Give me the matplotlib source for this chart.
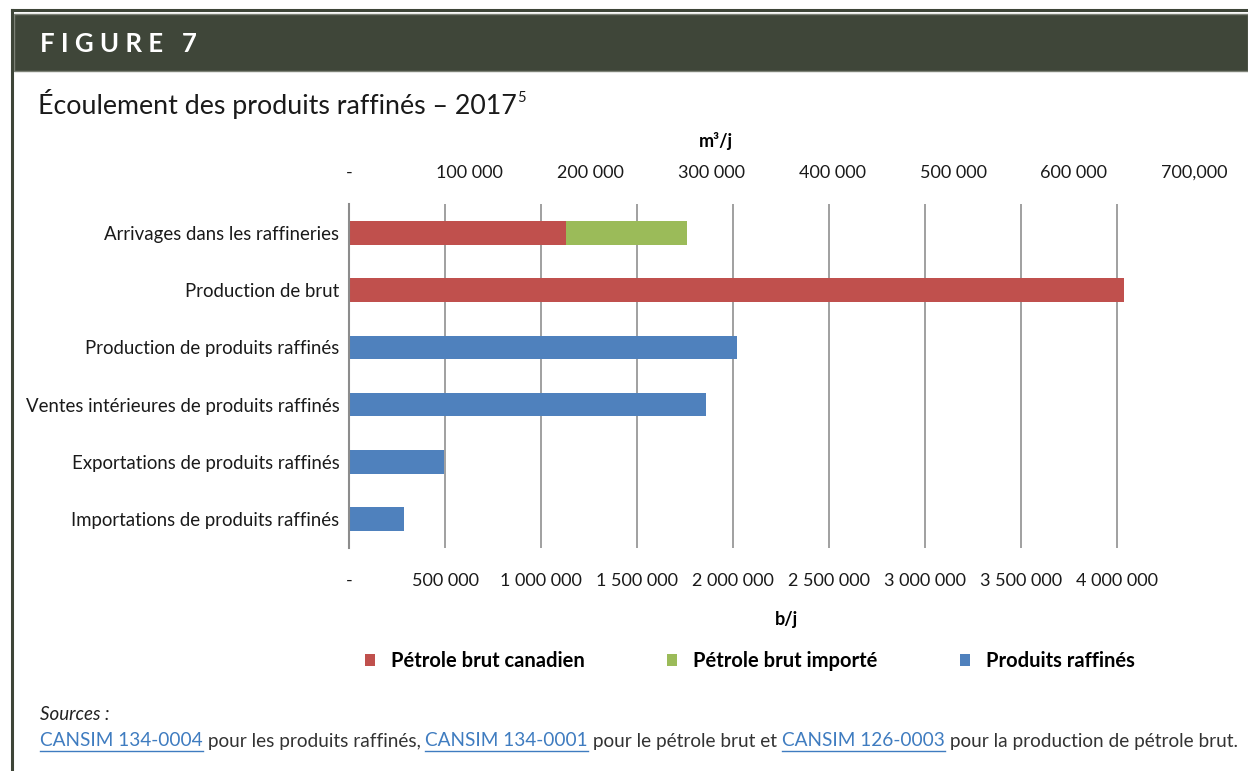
import matplotlib
matplotlib.use("Agg")
import matplotlib.pyplot as plt
from matplotlib.lines import Line2D
from matplotlib.patches import Rectangle

plt.rcParams['font.family'] = ['Lato', 'DejaVu Sans']

# données (b/j)
categories = ["Arrivages dans les raffineries", "Production de brut",
              "Production de produits raffinés",
              "Ventes intérieures de produits raffinés",
              "Exportations de produits raffinés",
              "Importations de produits raffinés"]
brut_canadien = [1131000, 4033000, 0, 0, 0, 0]
brut_importe = [630000, 0, 0, 0, 0, 0]
produits_raffines = [0, 0, 2022000, 1860000, 497000, 287000]
series_labels = ["Pétrole brut canadien", "Pétrole brut importé", "Produits raffinés"]

b_ticks = [0, 500000, 1000000, 1500000, 2000000, 2500000, 3000000, 3500000, 4000000]
b_labels = ["-", "500 000", "1 000 000", "1 500 000", "2 000 000", "2 500 000",
            "3 000 000", "3 500 000", "4 000 000"]
m3_ticks = [0, 100000, 200000, 300000, 400000, 500000, 600000, 700000]
m3_labels = ["-", "100 000", "200 000", "300 000", "400 000", "500 000", "600 000", "700,000"]
B_PAR_M3 = 6.2898

RED = "#C0504D"
GREEN = "#9BBB59"
BLUE = "#4F81BD"
W, H = 1248, 771

fig = plt.figure(figsize=(W / 100, H / 100), dpi=100)

# cadre et bandeau
fig.add_artist(Line2D([12 / W, 12 / W], [0, 1 - 10 / H], color="#3E4538", lw=2.2))
fig.add_artist(Line2D([12 / W, 1], [1 - 10 / H, 1 - 10 / H], color="#3E4538", lw=2.2))
fig.add_artist(Rectangle((14 / W, 1 - 71 / H), 1 - 14 / W, 57 / H, facecolor="#3F4639",
                         edgecolor="#7D8277", lw=1.0, transform=fig.transFigure))
fig.text(40 / W, 1 - 44 / H, "F I G U R E   7", color="white", fontsize=18.5,
         fontweight="bold", va="center", ha="left")

t = fig.text(38 / W, 1 - 104 / H, "Écoulement des produits raffinés – 2017", fontsize=19.3,
             va="center", ha="left", color="#1a1a1a")
fig.canvas.draw()
r = fig.canvas.get_renderer()
bb = t.get_window_extent(r)
fig.text(bb.x1 / W, 1 - 98 / H, "5", fontsize=10.5, va="center", ha="left", color="#1a1a1a")

# axes
left, right = 349 / W, 1194.6 / W
top, bottom = 1 - 204.4 / H, 1 - 547.6 / H
ax = fig.add_axes([left, bottom, right - left, top - bottom])
y = list(range(len(categories)))
h = 0.41
ax.barh(y, brut_canadien, height=h, color=RED, lw=0, label=series_labels[0], zorder=3)
ax.barh(y, brut_importe, height=h, left=brut_canadien, color=GREEN, lw=0,
        label=series_labels[1], zorder=3)
ax.barh(y, produits_raffines, height=h, color=BLUE, lw=0, label=series_labels[2], zorder=3)

ax.set_xlim(0, 700000 * B_PAR_M3)
ax.set_ylim(len(categories) - 0.5, -0.5)
ax.set_yticks(y, categories)
ax.set_xticks(b_ticks, b_labels)
ax.grid(axis="x", color="#A0A0A0", lw=1.4, zorder=0)
for s in ["top", "right", "bottom"]:
    ax.spines[s].set_visible(False)
ax.spines["left"].set_color("#8C8C8C")
ax.spines["left"].set_linewidth(1.5)
ax.spines["left"].set_zorder(4)
ax.tick_params(axis="y", length=0, pad=7, labelsize=13.4, labelcolor="#1a1a1a")
ax.tick_params(axis="x", length=0, pad=18, labelsize=13, labelcolor="#1a1a1a")

sec = ax.secondary_xaxis("top", functions=(lambda b: b / B_PAR_M3, lambda m: m * B_PAR_M3))
sec.set_xticks(m3_ticks, m3_labels)
sec.tick_params(length=0, pad=17, labelsize=13, labelcolor="#1a1a1a")
sec.spines["top"].set_visible(False)

fig.text(716 / W, 1 - 141 / H, "m³/j", fontsize=13, fontweight="bold",
         ha="center", va="center")
fig.text(786 / W, 1 - 620 / H, "b/j", fontsize=13, fontweight="bold",
         ha="center", va="center")

fig.legend(loc="center", bbox_to_anchor=(750 / W, 1 - 661 / H), ncol=3, frameon=False,
           prop={"weight": "bold", "size": 14.5}, handlelength=0.5,
           handleheight=0.5, handletextpad=0.8, columnspacing=4.1)

# sources
fig.text(40 / W, 1 - 715 / H, "Sources :", fontsize=13.5, style="italic", va="center",
         ha="left", color="#222222")
segments = [("CANSIM 134-0004", True), (" pour les produits raffinés, ", False),
            ("CANSIM 134-0001", True), (" pour le pétrole brut et ", False),
            ("CANSIM 126-0003", True), (" pour la production de pétrole brut.", False)]
x = 40
for txt, link in segments:
    tt = fig.text(x / W, 1 - 741 / H, txt, fontsize=13.7, va="center", ha="left",
                  color="#3F7CC0" if link else "#333333")
    fig.canvas.draw()
    e = tt.get_window_extent(fig.canvas.get_renderer())
    if link:
        fig.add_artist(Line2D([e.x0 / W, e.x1 / W], [1 - 751 / H, 1 - 751 / H],
                              color="#3F7CC0", lw=1.0))
    x = e.x1

fig.savefig("out.png", dpi=100)
